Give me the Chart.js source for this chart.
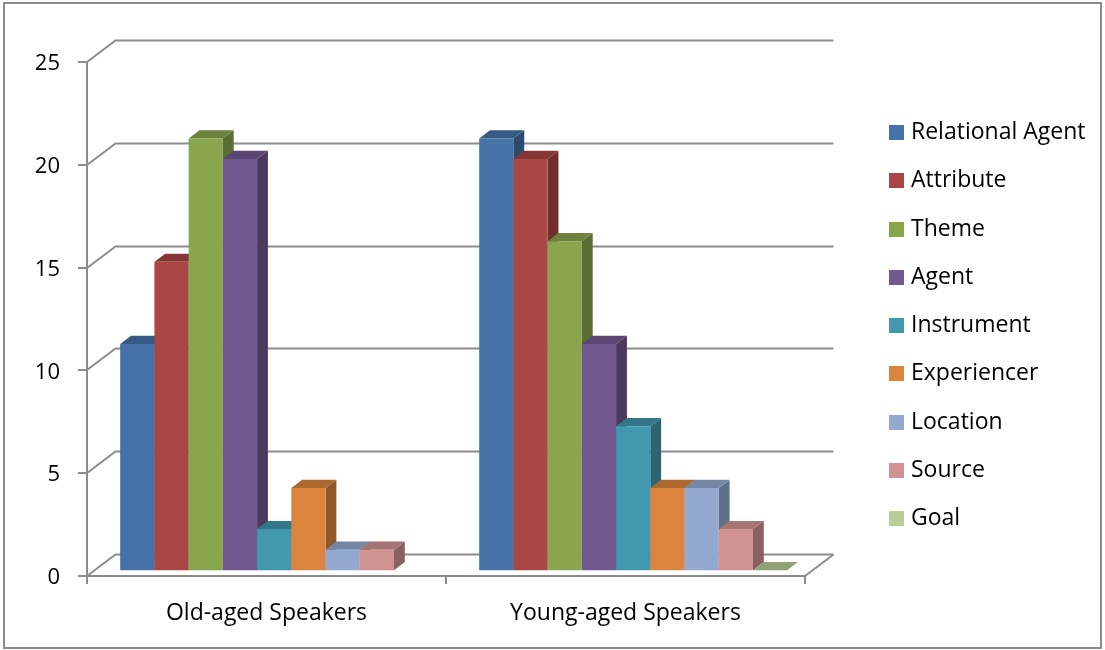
<!DOCTYPE html>
<html>
<head>
<meta charset="utf-8">
<script src="https://cdn.jsdelivr.net/npm/chart.js@4/dist/chart.umd.min.js"></script>
<style>
  html, body { margin: 0; padding: 0; background: #ffffff; }
  canvas { display: block; }
</style>
</head>
<body>
<canvas id="chart" width="1105" height="650"></canvas>
<script>
// Speaker groups along the category axis
const categories = ['Old-aged Speakers', 'Young-aged Speakers'];

// Semantic roles, one series each
const roles = ['Relational Agent', 'Attribute', 'Theme', 'Agent', 'Instrument',
               'Experiencer', 'Location', 'Source', 'Goal'];

// Counts per role for each speaker group
const oldAged   = [11, 15, 21, 20, 2, 4, 1, 1, null];
const youngAged = [21, 20, 16, 11, 7, 4, 4, 2, 0];

// Value axis ticks
const yTickValues = [0, 5, 10, 15, 20, 25];

// Series fill colours (front faces)
const roleColors = ['#4572A7', '#AA4643', '#89A54E', '#71588F', '#4198AF',
                    '#DB843D', '#93A9CF', '#D19392', '#B9CD96'];

const FONT = '"Open Sans", "Noto Sans", sans-serif';
const GRID = '#8c8c8c';

// Oblique projection of the box: wall depth and where the bars sit in it
const WALL = { dx: 28.5, dy: -21.5 };
const BAR_INSET = 0.27;
const BAR_DEPTH = 0.38;

function shade(hex, f) {
  const n = parseInt(hex.slice(1), 16);
  const r = Math.round(((n >> 16) & 255) * f);
  const g = Math.round(((n >> 8) & 255) * f);
  const b = Math.round((n & 255) * f);
  return `rgb(${r},${g},${b})`;
}

function poly(ctx, pts, fill) {
  ctx.beginPath();
  ctx.moveTo(pts[0][0], pts[0][1]);
  for (let i = 1; i < pts.length; i++) ctx.lineTo(pts[i][0], pts[i][1]);
  ctx.closePath();
  ctx.fillStyle = fill;
  ctx.fill();
}

const box3d = {
  id: 'box3d',
  beforeDatasetsDraw(chart) {
    const { ctx, chartArea: a, scales: { x, y } } = chart;
    const { dx, dy } = WALL;
    ctx.save();
    ctx.strokeStyle = GRID;
    ctx.lineWidth = 2;

    // Back wall gridlines with their left-wall returns and tick stubs
    y.ticks.forEach(t => {
      const py = Math.round(y.getPixelForValue(t.value));
      ctx.beginPath();
      ctx.moveTo(a.left - 9, py);
      ctx.lineTo(a.left, py);
      ctx.lineTo(a.left + dx, py + dy);
      ctx.lineTo(a.right + dx, py + dy);
      ctx.stroke();
    });

    // Floor front edge and right return
    const fy = Math.round(y.getPixelForValue(0));
    ctx.beginPath();
    ctx.moveTo(a.left, fy);
    ctx.lineTo(a.right, fy);
    ctx.lineTo(a.right + dx, fy + dy);
    ctx.stroke();

    // Front value axis line
    ctx.beginPath();
    ctx.moveTo(a.left, Math.round(y.getPixelForValue(y.max)));
    ctx.lineTo(a.left, fy);
    ctx.stroke();

    // Category boundary ticks
    const n = chart.data.labels.length;
    for (let k = 0; k <= n; k++) {
      const px = Math.round(a.left + k * (a.right - a.left) / n);
      ctx.beginPath();
      ctx.moveTo(px, fy);
      ctx.lineTo(px, fy + 8);
      ctx.stroke();
    }

    // 3D columns, left to right inside each group
    const ox = BAR_INSET * dx, oy = BAR_INSET * dy;
    const bx = BAR_DEPTH * dx, by = BAR_DEPTH * dy;
    chart.data.datasets.forEach((ds, di) => {
      const meta = chart.getDatasetMeta(di);
      meta.data.forEach((el, i) => {
        if (ds.data[i] === null || ds.data[i] === undefined) return;
        const p = el.getProps(['x', 'y', 'base', 'width'], true);
        const l = p.x - p.width / 2 + ox;
        const r = l + p.width;
        const t = p.y + oy;
        const b = p.base + oy;
        const c = ds.backgroundColor;
        // right side
        poly(ctx, [[r, t], [r + bx, t + by], [r + bx, b + by], [r, b]], shade(c, 0.66));
        // top
        poly(ctx, [[l, t], [r, t], [r + bx, t + by], [l + bx, t + by]], shade(c, 0.79));
        // front
        if (b - t > 0) poly(ctx, [[l, t], [r, t], [r, b], [l, b]], c);
      });
    });
    ctx.restore();
    return false;
  },
  afterDraw(chart) {
    const { ctx } = chart;
    ctx.save();
    // Legend
    ctx.font = `23px ${FONT}`;
    ctx.textBaseline = 'middle';
    ctx.textAlign = 'left';
    chart.data.datasets.forEach((ds, i) => {
      const cy = 132.5 + i * 48.25;
      ctx.fillStyle = ds.backgroundColor;
      ctx.fillRect(889, Math.round(cy - 7.5), 15, 15);
      ctx.fillStyle = '#000000';
      ctx.fillText(ds.label, 911, cy);
    });
    // Outer frame
    ctx.strokeStyle = GRID;
    ctx.lineWidth = 2;
    ctx.strokeRect(4, 3, 1097, 645);
    ctx.restore();
  }
};

Chart.defaults.font.family = FONT;
Chart.defaults.font.size = 23;
Chart.defaults.color = '#000000';

new Chart(document.getElementById('chart'), {
  type: 'bar',
  data: {
    labels: categories,
    datasets: roles.map((role, i) => ({
      label: role,
      data: [oldAged[i], youngAged[i]],
      backgroundColor: roleColors[i],
      categoryPercentage: 0.858,
      barPercentage: 1.0
    }))
  },
  options: {
    responsive: false,
    animation: false,
    devicePixelRatio: 1,
    layout: { padding: { top: 62, right: 300, bottom: 0, left: 0 } },
    plugins: {
      legend: { display: false },
      tooltip: { enabled: false }
    },
    scales: {
      x: {
        grid: { display: false, drawTicks: false },
        border: { display: false },
        ticks: { padding: 24, font: { size: 23 } },
        afterFit(scale) { scale.height = 74; }
      },
      y: {
        min: 0,
        max: 25,
        grid: { display: false, drawTicks: false },
        border: { display: false },
        afterBuildTicks(scale) { scale.ticks = yTickValues.map(v => ({ value: v })); },
        ticks: { padding: 27, labelOffset: 2, font: { size: 22 } },
        afterFit(scale) { scale.width = 87; }
      }
    }
  },
  plugins: [box3d]
});
</script>
</body>
</html>
